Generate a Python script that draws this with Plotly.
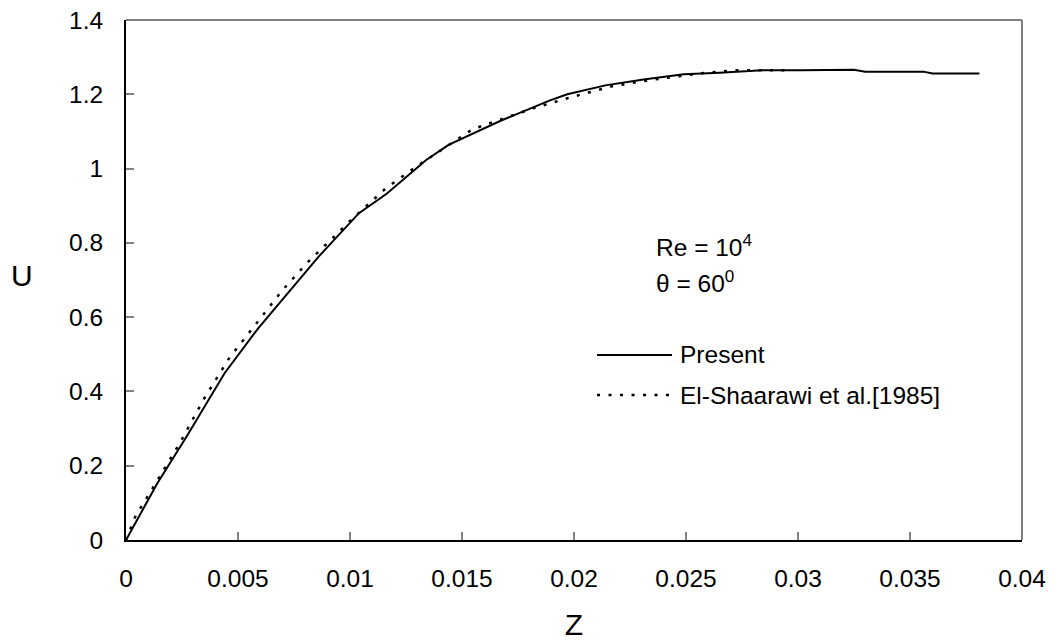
import plotly.graph_objects as go

# Present results
present_z = [0, 0.0014, 0.0027, 0.0044, 0.0059, 0.0076, 0.0086, 0.0104, 0.01165, 0.0134,
             0.0144, 0.0167, 0.0189, 0.0197, 0.0214, 0.0231, 0.0249, 0.0265, 0.0284, 0.0301,
             0.0325, 0.0330, 0.0356, 0.0360, 0.0381]
present_u = [0, 0.153, 0.278, 0.449, 0.570, 0.691, 0.763, 0.880, 0.933, 1.023,
             1.064, 1.128, 1.183, 1.200, 1.224, 1.240, 1.254, 1.258, 1.265, 1.265,
             1.266, 1.261, 1.261, 1.256, 1.256]

# El-Shaarawi et al. [1985]
el_z = [0, 0.00043, 0.00133, 0.00244, 0.00349, 0.0046, 0.00565, 0.00699, 0.0081, 0.00997,
        0.0116, 0.0130, 0.01548, 0.01816, 0.0198, 0.02173, 0.02337, 0.0256, 0.0273, 0.0295]
el_u = [0, 0.065, 0.153, 0.265, 0.381, 0.489, 0.570, 0.673, 0.747, 0.857,
        0.947, 1.007, 1.106, 1.162, 1.191, 1.222, 1.238, 1.256, 1.265, 1.265]

x_ticks = [0, 0.005, 0.01, 0.015, 0.02, 0.025, 0.03, 0.035, 0.04]
x_labels = ["0", "0.005", "0.01", "0.015", "0.02", "0.025", "0.03", "0.035", "0.04"]
y_ticks = [0, 0.2, 0.4, 0.6, 0.8, 1.0, 1.2, 1.4]
y_labels = ["0", "0.2", "0.4", "0.6", "0.8", "1", "1.2", "1.4"]

FONT = "Liberation Sans, Arial, sans-serif"
DOT = "3px,8.5px"
FS = 24.5

fig = go.Figure()
fig.add_trace(go.Scatter(x=present_z, y=present_u, mode="lines",
                         line=dict(color="black", width=2), showlegend=False))
fig.add_trace(go.Scatter(x=el_z, y=el_u, mode="lines",
                         line=dict(color="black", width=2.5, dash=DOT), showlegend=False))

fig.update_layout(
    width=1055, height=641,
    margin=dict(l=126, r=33, t=20, b=101),
    paper_bgcolor="white", plot_bgcolor="white",
    font=dict(family=FONT, size=FS, color="black"),
    showlegend=False,
)
fig.update_xaxes(range=[0, 0.04], tickvals=x_ticks, ticktext=x_labels,
                 showgrid=False, zeroline=False, automargin=False,
                 showline=True, linecolor="black", linewidth=2,
                 ticks="inside", ticklen=8, tickwidth=2, tickcolor="#808080",
                 ticklabelstandoff=16,
                 title=dict(text="Z", font=dict(size=30), standoff=24))
fig.update_yaxes(range=[0, 1.4], tickvals=y_ticks, ticktext=y_labels,
                 showgrid=False, zeroline=False, automargin=False,
                 showline=True, linecolor="black", linewidth=2,
                 ticks="inside", ticklen=8, tickwidth=2, tickcolor="#808080",
                 ticklabelstandoff=16)

# horizontal y-axis title
fig.add_annotation(text="U", xref="paper", yref="paper", x=-0.1161, y=0.5096,
                   xanchor="center", yanchor="middle", showarrow=False, font=dict(size=30))

# gray top and right frame
fig.add_shape(type="line", xref="paper", yref="paper", x0=0, x1=1, y0=1, y1=1,
              line=dict(color="#808080", width=2))
fig.add_shape(type="line", xref="paper", yref="paper", x0=1, x1=1, y0=0, y1=1,
              line=dict(color="#808080", width=2))

# legend (manual)
fig.add_shape(type="line", xref="paper", yref="paper", x0=0.5257, x1=0.6094,
              y0=0.3558, y1=0.3558, line=dict(color="black", width=2))
fig.add_shape(type="line", xref="paper", yref="paper", x0=0.5257, x1=0.6094,
              y0=0.2788, y1=0.2788, line=dict(color="black", width=2.5, dash=DOT))
fig.add_annotation(text="Present", xref="paper", yref="paper", x=0.6161, y=0.3558,
                   xanchor="left", yanchor="middle", showarrow=False, font=dict(size=FS))
fig.add_annotation(text="El-Shaarawi et al.[1985]", xref="paper", yref="paper",
                   x=0.6161, y=0.2788, xanchor="left", yanchor="middle",
                   showarrow=False, font=dict(size=FS))

fig.add_annotation(text="Re = 10<sup>4</sup>", xref="paper", yref="paper", x=0.5893, y=0.566,
                   xanchor="left", yanchor="middle", showarrow=False, font=dict(size=FS))
fig.add_annotation(text="θ = 60<sup>0</sup>", xref="paper", yref="paper", x=0.5893, y=0.497,
                   xanchor="left", yanchor="middle", showarrow=False, font=dict(size=FS))

fig.write_html("out.html")
